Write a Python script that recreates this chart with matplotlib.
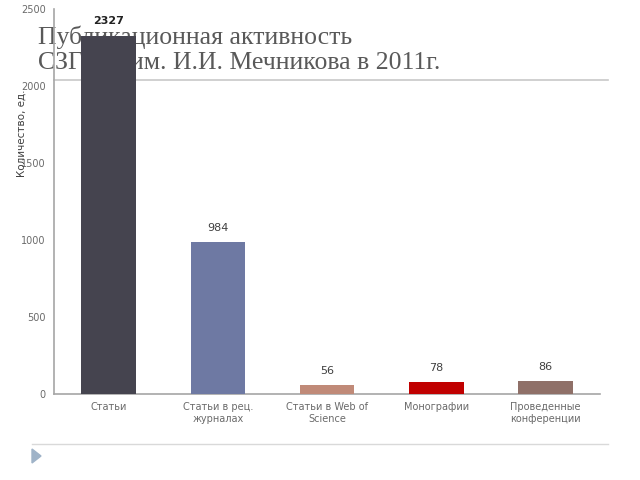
import matplotlib
matplotlib.use("Agg")
import matplotlib.pyplot as plt
from matplotlib.patches import Polygon
from matplotlib.lines import Line2D

categories = ["Статьи", "Статьи в рец.\nжурналах", "Статьи в Web of\nScience", "Монографии", "Проведенные\nконференции"]
values = [2327, 984, 56, 78, 86]
colors = ["#45444f", "#6e79a3", "#c08a78", "#c00000", "#8f7068"]
yticks = [0, 500, 1000, 1500, 2000, 2500]

fig = plt.figure(figsize=(6.4, 4.8), dpi=100)
ax = fig.add_axes([54/640, 1-394/480, 546/640, 385/480])
ax.patch.set_alpha(0)

x = range(len(categories))
bars = ax.bar(x, values, width=0.5, color=colors, zorder=3)
ax.set_xlim(-0.5, len(categories)-0.5)
ax.set_ylim(0, 2500)
ax.set_yticks(yticks)
ax.set_yticklabels([str(t) for t in yticks], fontsize=7, color="#6a6a6a")
ax.set_xticks(list(x))
ax.set_xticklabels(categories, fontsize=7, color="#6a6a6a")
ax.tick_params(length=0, pad=6)
for s in ["top", "right"]:
    ax.spines[s].set_visible(False)
for s in ["left", "bottom"]:
    ax.spines[s].set_color("#a6a6a6")
    ax.spines[s].set_linewidth(1.2)

for i, (v, b) in enumerate(zip(values, bars)):
    ax.text(b.get_x()+b.get_width()/2, v + 60, str(v), ha="center", va="bottom",
            fontsize=8, fontweight="bold" if i == 0 else "normal",
            color="#222222" if i == 0 else "#404040")

fig.text(22/640, 1-133/480, "Количество, ед.", rotation=90, ha="center", va="center",
         fontsize=7.5, color="#404040")

# title behind the bars
fig.text(38/640, 1-50/480, "Публикационная активность\nСЗГМУ им. И.И. Мечникова в 2011г.",
         ha="left", va="center", fontsize=18.5, family="Liberation Serif",
         color="#595959", linespacing=1.17, zorder=-1)

fig.add_artist(Line2D([54/640, 608/640], [1-80/480, 1-80/480], color="#c8c8c8", lw=1.2, zorder=-1))
fig.add_artist(Line2D([32/640, 608/640], [1-444/480, 1-444/480], color="#d9d9d9", lw=1.0, zorder=-1))
fig.add_artist(Polygon([[32/640, 1-449/480], [32/640, 1-463/480], [41/640, 1-456/480]],
                       closed=True, color="#9fb3c8", transform=fig.transFigure, zorder=-1))

fig.savefig("out.png", dpi=100)
